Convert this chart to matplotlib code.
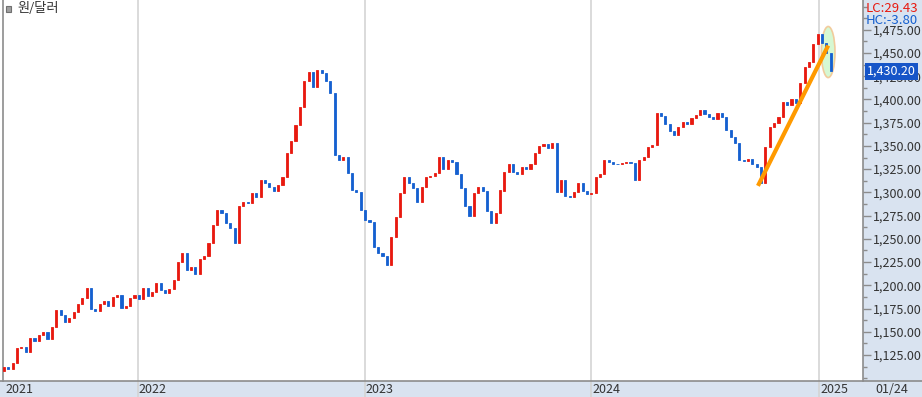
import numpy as np
import pandas as pd
import matplotlib
matplotlib.use("Agg")
import matplotlib.pyplot as plt
import matplotlib.transforms as mtransforms
from matplotlib.patches import Rectangle, Ellipse
from matplotlib.ticker import MultipleLocator, FuncFormatter

plt.rcParams['font.family'] = ['Noto Sans CJK KR', 'DejaVu Sans']

# weekly closes, 원/달러
start_date = "2021-05-31"
first_open = 1108
closes = [
    1112, 1110, 1116, 1133, 1134, 1128, 1143, 1140, 1147, 1150,
    1142, 1155, 1173, 1168, 1160, 1165, 1171, 1180, 1186, 1197,
    1175, 1172, 1180, 1183, 1178, 1187, 1190, 1176, 1178, 1186,
    1190, 1185, 1197, 1188, 1193, 1202, 1195, 1192, 1196, 1206,
    1225, 1235, 1216, 1220, 1212, 1228, 1232, 1245, 1265, 1281,
    1278, 1267, 1262, 1245, 1285, 1290, 1289, 1299, 1295, 1313,
    1310, 1306, 1302, 1308, 1317, 1342, 1355, 1372, 1392, 1420,
    1430, 1413, 1432, 1428, 1420, 1407, 1340, 1335, 1338, 1321,
    1303, 1300, 1281, 1270, 1268, 1241, 1235, 1232, 1222, 1252,
    1273, 1299, 1316, 1310, 1305, 1290, 1306, 1316, 1318, 1321,
    1338, 1325, 1335, 1333, 1320, 1305, 1285, 1275, 1299, 1306,
    1302, 1280, 1267, 1278, 1302, 1322, 1331, 1322, 1320, 1327,
    1325, 1330, 1342, 1350, 1352, 1348, 1353, 1300, 1313, 1296,
    1295, 1300, 1310, 1302, 1298, 1299, 1316, 1320, 1335, 1333,
    1331, 1330, 1332, 1333, 1332, 1313, 1335, 1338, 1349, 1351,
    1385, 1382, 1374, 1366, 1362, 1370, 1376, 1374, 1380, 1383,
    1389, 1384, 1381, 1379, 1385, 1381, 1367, 1360, 1353, 1335,
    1334, 1336, 1330, 1327, 1310, 1349, 1370, 1375, 1381, 1397,
    1394, 1400, 1396, 1418, 1435, 1440, 1460, 1470, 1461, 1450,
    1430.2,
]
year_labels = ["2021", "2022", "2023", "2024", "2025"]
year_starts = ["2021-05-31", "2022-01-01", "2023-01-01", "2024-01-01", "2025-01-01"]

# trend line and highlight ellipse
trend_dates = ["2024-09-25", "2025-01-16"]
trend_values = [1307, 1458]
mark_date = "2025-01-16"
mark_value = 1451

lc_text = "LC:29.43"
hc_text = "HC:-3.80"
last_label = "01/24"

RED = "#e8190f"
BLUE = "#1560d0"
PANEL = "#d9e3f0"
GRID = "#d4d4d4"
EDGE = "#8c8c8c"

dates = pd.date_range(start_date, periods=len(closes), freq="7D")
closes = np.array(closes, dtype=float)
opens = np.r_[first_open, closes[:-1]]

W, H = 922, 397
fig = plt.figure(figsize=(W / 100, H / 100), dpi=100, facecolor="white")
ax = fig.add_axes([3 / W, 16 / H, 860 / W, 381 / H])

# background panels
fig.add_artist(Rectangle((863 / W, 0), 1 - 863 / W, 1, transform=fig.transFigure,
                         color=PANEL, zorder=0))
fig.add_artist(Rectangle((0, 0), 1, 16 / H, transform=fig.transFigure,
                         color=PANEL, zorder=0))

# candles
up = closes >= opens
colors = np.where(up, RED, BLUE)
bottoms = np.minimum(opens, closes)
heights = np.abs(closes - opens)
ax.bar(dates, heights, bottom=bottoms, width=3.4, color=colors,
       edgecolor=colors, linewidth=0.6, zorder=3)

# year grid lines
for d in year_starts[1:]:
    ax.axvline(pd.Timestamp(d), color=GRID, lw=1.2, zorder=1)

# trend line + highlight
ax.plot(pd.to_datetime(trend_dates), trend_values, color="#ff9a00", lw=3,
        solid_capstyle="butt", zorder=5)
ax.add_patch(Ellipse((pd.Timestamp(mark_date), mark_value), width=22, height=55,
                     facecolor="#ccf7c8", edgecolor="#f4c08a", lw=1.2,
                     alpha=0.8, zorder=2))

ax.set_xlim(pd.Timestamp(start_date) - pd.Timedelta(days=1.6),
            pd.Timestamp(start_date) + pd.Timedelta(days=1382))
ax.set_ylim(1097, 1507)

for s in ["top", "bottom"]:
    ax.spines[s].set_visible(False)
ax.spines["left"].set_color(EDGE)
ax.spines["right"].set_color(EDGE)
ax.spines["left"].set_linewidth(1.2)
ax.spines["right"].set_linewidth(1.2)
ax.set_xticks([])

ax.yaxis.tick_right()
ax.yaxis.set_major_locator(MultipleLocator(25))
ax.yaxis.set_minor_locator(MultipleLocator(12.5))
ax.yaxis.set_major_formatter(FuncFormatter(lambda v, p: f"{v:,.2f}"))
ax.tick_params(axis="y", which="major", direction="out", length=6, width=1,
               color=EDGE, labelsize=9, labelcolor="#333333", pad=1)
ax.tick_params(axis="y", which="minor", direction="out", length=3, width=1,
               color=EDGE)
ax.set_yticks([t for t in range(1125, 1500, 25)])

# bottom strip: border and year labels
fig.add_artist(plt.Line2D([0, 1], [16 / H, 16 / H], transform=fig.transFigure,
                          color=EDGE, lw=1.2))
trans = mtransforms.blended_transform_factory(ax.transData, fig.transFigure)
for lab, d in zip(year_labels, year_starts):
    x = pd.Timestamp(d)
    if lab != year_labels[0]:
        ax.plot([x, x], [0, 16 / H], transform=trans, color=GRID, lw=1.2,
                clip_on=False)
    ax.text(x + pd.Timedelta(days=2), 7.5 / H, lab, transform=trans,
            ha="left", va="center", fontsize=9, color="#333333")
fig.text(875 / W, 7.5 / H, last_label, ha="left", va="center", fontsize=9,
         color="#333333")

# top right info
fig.text(866 / W, 1 - 8 / H, lc_text, ha="left", va="center", fontsize=9.5,
         color=RED)
fig.text(866 / W, 1 - 20 / H, hc_text, ha="left", va="center", fontsize=9.5,
         color=BLUE)

# current price box
ptrans = mtransforms.blended_transform_factory(fig.transFigure, ax.transData)
ax.text(867 / W, closes[-1], f"{closes[-1]:,.2f}", transform=ptrans,
        ha="left", va="center", fontsize=9, color="white", zorder=10,
        bbox=dict(boxstyle="square,pad=0.15", facecolor="#1655c8",
                  edgecolor="none"))

# legend marker
fig.add_artist(Rectangle((6 / W, 1 - 12 / H), 5 / W, 6 / H, transform=fig.transFigure,
                         facecolor="#a0a0a0", edgecolor="#707070", lw=0.8))
fig.text(17 / W, 1 - 9 / H, "원/달러", ha="left", va="center", fontsize=9.5,
         color="#333333")

fig.savefig("out.png", dpi=100, facecolor="white")
